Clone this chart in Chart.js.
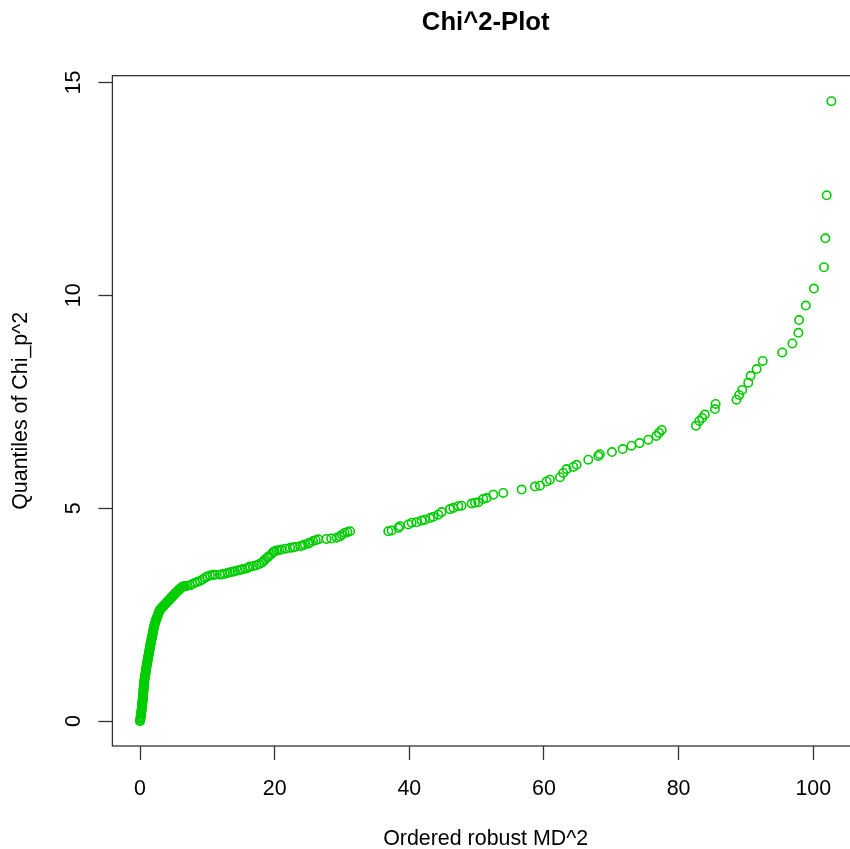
<!DOCTYPE html>
<html><head><meta charset="utf-8">
<script src="https://cdn.jsdelivr.net/npm/chart.js@4.4.1/dist/chart.umd.min.js"></script>
<style>
html,body{margin:0;padding:0;overflow:hidden;background:#fff;width:850px;height:849px}
canvas{display:block}
</style></head>
<body>
<canvas id="c" width="870" height="849" style="width:870px;height:849px"></canvas>
<script>
const chartTitle = 'Chi^2-Plot';
const xLabel = 'Ordered robust MD^2';
const yLabel = 'Quantiles of Chi_p^2';
const xTicks = [0, 20, 40, 60, 80, 100];
const yTicks = [0, 5, 10, 15];

// Ordered robust squared Mahalanobis distances (x)
const robustMD2 = [
  0.00,0.03,0.06,0.09,0.12,0.14,0.16,0.19,0.21,0.24,
  0.26,0.28,0.30,0.32,0.34,0.36,0.38,0.40,0.42,0.44,
  0.45,0.47,0.48,0.50,0.52,0.53,0.55,0.57,0.59,0.61,
  0.63,0.64,0.66,0.68,0.71,0.74,0.77,0.80,0.83,0.86,
  0.89,0.92,0.95,0.98,1.01,1.04,1.08,1.11,1.14,1.17,
  1.21,1.24,1.28,1.31,1.34,1.38,1.42,1.45,1.49,1.52,
  1.55,1.59,1.63,1.67,1.70,1.74,1.78,1.82,1.86,1.90,
  1.93,1.97,2.01,2.05,2.09,2.14,2.19,2.24,2.30,2.36,
  2.43,2.50,2.58,2.65,2.72,2.80,2.87,2.95,
  3.05,3.15,3.27,3.38,3.50,3.62,3.74,3.86,3.98,4.10,
  4.22,4.34,4.46,4.58,4.70,4.82,4.94,5.06,5.18,5.30,
  5.42,5.55,5.68,5.82,5.96,6.10,6.25,6.45,
  6.68,7.00,7.43,7.80,8.17,8.50,8.91,9.30,9.65,10.00,
  10.40,10.80,11.14,11.88,12.20,12.60,13.00,13.40,13.80,14.10,
  14.50,14.85,15.20,15.60,16.00,16.30,16.80,17.30,17.70,18.10,
  18.40,18.60,18.90,19.10,19.50,19.80,20.00,20.30,20.70,21.00,
  21.60,22.30,22.70,23.00,23.80,24.20,24.50,25.00,25.20,25.70,
  26.10,26.50,27.70,28.40,29.20,29.70,30.00,30.40,30.80,31.20,
  36.88,37.38,38.37,38.62,39.85,40.35,41.09,41.83,42.33,43.07,
  43.57,44.31,44.80,46.04,46.54,47.28,47.77,49.26,49.75,50.25,
  50.99,51.49,52.48,53.96,56.69,58.67,59.41,60.40,60.89,62.38,
  62.87,63.37,64.36,64.85,66.59,68.07,68.30,
  70.10,71.70,73.00,74.20,75.50,76.70,77.10,77.50,82.58,83.07,
  83.50,83.90,85.40,85.50,88.60,89.00,89.45,90.35,90.70,91.60,
  92.50,95.40,96.90,97.80,97.90,98.90,100.10,101.60,101.80,102.00,
  102.70
];

// Quantiles of the chi-square distribution (y)
const chiQuantiles = [
  0.00,0.03,0.06,0.09,0.12,0.15,0.18,0.21,0.24,0.27,
  0.30,0.33,0.36,0.39,0.42,0.45,0.48,0.51,0.54,0.57,
  0.60,0.63,0.66,0.69,0.72,0.75,0.78,0.81,0.84,0.87,
  0.90,0.93,0.96,0.99,1.02,1.05,1.08,1.11,1.14,1.17,
  1.20,1.23,1.26,1.29,1.32,1.35,1.38,1.41,1.44,1.47,
  1.50,1.53,1.56,1.59,1.62,1.65,1.68,1.71,1.74,1.77,
  1.80,1.83,1.86,1.89,1.92,1.95,1.98,2.01,2.04,2.07,
  2.10,2.13,2.16,2.19,2.22,2.25,2.28,2.31,2.34,2.37,
  2.40,2.43,2.46,2.49,2.52,2.55,2.58,2.61,
  2.63,2.65,2.67,2.69,2.71,2.73,2.75,2.77,2.79,2.81,
  2.83,2.85,2.87,2.89,2.91,2.93,2.95,2.97,2.99,3.01,
  3.03,3.05,3.07,3.09,3.11,3.13,3.15,3.17,
  3.17,3.18,3.19,3.22,3.25,3.27,3.29,3.33,3.37,3.40,
  3.42,3.43,3.44,3.44,3.45,3.46,3.48,3.50,3.51,3.52,
  3.54,3.55,3.57,3.58,3.60,3.63,3.64,3.66,3.69,3.72,
  3.76,3.80,3.84,3.87,3.92,3.97,3.99,4.01,4.02,4.03,
  4.05,4.07,4.08,4.09,4.11,4.13,4.15,4.17,4.19,4.23,
  4.25,4.27,4.28,4.29,4.31,4.34,4.38,4.42,4.44,4.46,
  4.46,4.48,4.54,4.58,4.62,4.66,4.67,4.71,4.73,4.77,
  4.80,4.85,4.91,4.98,5.01,5.05,5.06,5.11,5.13,5.14,
  5.22,5.24,5.32,5.36,5.44,5.51,5.53,5.63,5.67,5.73,
  5.83,5.92,5.97,6.02,6.14,6.23,6.27,
  6.32,6.39,6.47,6.53,6.61,6.70,6.77,6.84,6.94,7.05,
  7.12,7.20,7.33,7.45,7.55,7.66,7.78,7.95,8.11,8.27,
  8.46,8.66,8.87,9.12,9.42,9.76,10.16,10.66,11.34,12.35,
  14.56
];

const FONT = '"Liberation Sans", Arial, Helvetica, sans-serif';
const INK = '#000000';
const AXIS = '#333333';

const boxPlugin = {
  id: 'rbox',
  afterDatasetsDraw(chart) {
    const {ctx, chartArea: a} = chart;
    ctx.save();
    ctx.strokeStyle = AXIS;
    ctx.lineWidth = 1.3;
    ctx.strokeRect(a.left, a.top, a.right - a.left, a.bottom - a.top);
    ctx.restore();
  }
};

new Chart(document.getElementById('c').getContext('2d'), {
  type: 'scatter',
  data: {
    datasets: [{
      data: robustMD2.map((x, i) => ({x: x, y: chiQuantiles[i]})),
      borderColor: '#00CD00',
      backgroundColor: 'rgba(0,0,0,0)',
      pointRadius: 4.2,
      pointHoverRadius: 4.2,
      pointBorderWidth: 1.6,
      pointStyle: 'circle'
    }]
  },
  options: {
    responsive: false,
    animation: false,
    events: [],
    devicePixelRatio: 1,
    layout: {padding: {left: 0, right: 11, top: 0, bottom: 0}},
    plugins: {
      legend: {display: false},
      tooltip: {enabled: false},
      title: {
        display: true, text: chartTitle, fullSize: false, color: INK,
        font: {family: FONT, size: 25.7, weight: 'bold', lineHeight: 1.2},
        padding: {top: 7.4, bottom: 37.4}
      }
    },
    scales: {
      x: {
        type: 'linear', position: 'bottom', min: -4.1, max: 106.8,
        afterBuildTicks: s => { s.ticks = xTicks.map(v => ({value: v})); },
        afterFit: s => { s.height = 103; },
        grid: {display: true, drawOnChartArea: false, drawTicks: true, tickLength: 14, tickColor: AXIS, tickWidth: 1.3},
        border: {display: false},
        ticks: {color: INK, font: {family: FONT, size: 21.4}, padding: 16, maxRotation: 0, minRotation: 0, autoSkip: false},
        title: {display: true, text: xLabel, color: INK, font: {family: FONT, size: 21.4, lineHeight: 1}, padding: {top: 0, bottom: -1}}
      },
      y: {
        type: 'linear', position: 'left', min: -0.583, max: 15.16,
        afterBuildTicks: s => { s.ticks = yTicks.map(v => ({value: v})); },
        afterFit: s => { s.width = 112.4; },
        grid: {display: true, drawOnChartArea: false, drawTicks: true, tickLength: 14, tickColor: AXIS, tickWidth: 1.3},
        border: {display: false},
        ticks: {color: INK, font: {family: FONT, size: 21.4}, padding: 12, minRotation: 90, maxRotation: 90, crossAlign: 'center', autoSkip: false},
        title: {display: true, text: yLabel, color: INK, font: {family: FONT, size: 21.4, lineHeight: 1}, padding: {top: 10, bottom: 0}}
      }
    }
  },
  plugins: [boxPlugin]
});
</script>
</body></html>
